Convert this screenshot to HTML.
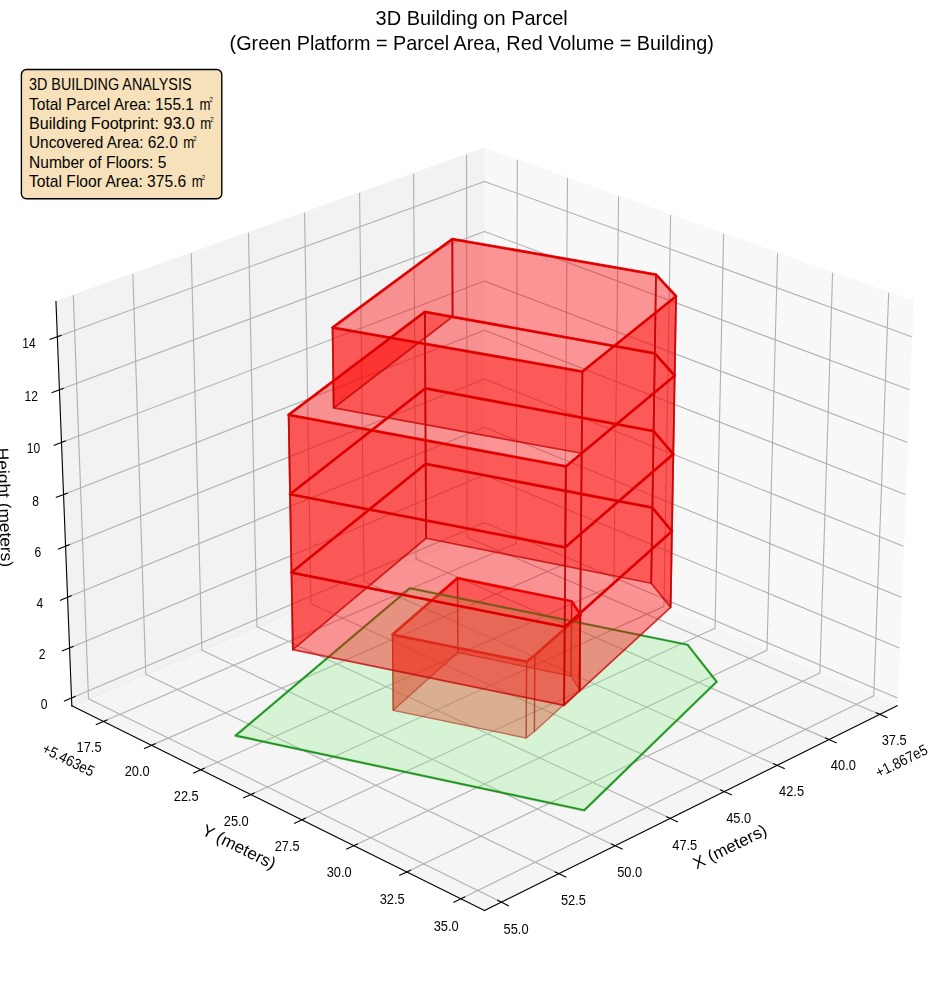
<!DOCTYPE html>
<html><head><meta charset="utf-8"><title>3D Building on Parcel</title>
<style>html,body{margin:0;padding:0;background:#fff}body{width:944px;height:992px;position:relative;overflow:hidden;font-family:"Liberation Sans",sans-serif}</style></head>
<body>
<svg width="944" height="992" viewBox="0 0 944 992" style="position:absolute;left:0;top:0;display:block">
<rect width="944" height="992" fill="#fff"/>
<path d="M484.49 529.79L897.14 705.85L913.01 301.55L484.49 148.37" fill="#f2f2f2" stroke="#f2f2f2" stroke-width="1.39" opacity=".5"/>
<path d="M484.49 529.79L71.83 705.85L55.96 301.55L484.49 148.37" fill="#e6e6e6" stroke="#e6e6e6" stroke-width="1.39" opacity=".5"/>
<path d="M484.49 529.79L71.83 705.85L484.49 910.42L897.14 705.85" fill="#ececec" stroke="#ececec" stroke-width="1.39" opacity=".5"/>
<g fill="none" stroke="#b0b0b0" stroke-width="1.11" stroke-linejoin="round">
<path d="M879.90 714.40L467.15 537.19L466.53 154.79"/>
<path d="M829.03 739.62L416.05 558.99L413.58 173.71"/>
<path d="M777.14 765.34L364.00 581.19L359.61 193.01"/>
<path d="M724.20 791.59L310.98 603.82L304.58 212.68"/>
<path d="M670.17 818.37L256.94 626.87L248.47 232.73"/>
<path d="M615.03 845.71L201.87 650.37L191.25 253.19"/>
<path d="M558.73 873.62L145.73 674.32L132.87 274.05"/>
<path d="M501.24 902.12L88.49 698.75L73.31 295.35"/>
<path d="M517.33 160.11L516.19 543.31L103.37 721.49"/>
<path d="M567.49 178.04L564.59 563.97L151.57 745.38"/>
<path d="M618.58 196.30L613.85 584.98L200.69 769.73"/>
<path d="M670.60 214.90L663.98 606.37L250.75 794.55"/>
<path d="M723.60 233.84L715.01 628.15L301.78 819.85"/>
<path d="M777.58 253.14L766.97 650.31L353.81 845.64"/>
<path d="M832.60 272.80L819.87 672.89L406.86 871.94"/>
<path d="M888.66 292.84L873.75 695.87L460.97 898.76"/>
<path d="M71.52 698.06L484.49 522.42L897.45 698.06"/>
<path d="M69.56 647.91L484.49 475.00L899.42 647.91"/>
<path d="M67.57 597.29L484.49 427.17L901.40 597.29"/>
<path d="M65.56 546.17L484.49 378.90L903.41 546.17"/>
<path d="M63.54 494.56L484.49 330.21L905.44 494.56"/>
<path d="M61.49 442.45L484.49 281.07L907.48 442.45"/>
<path d="M59.43 389.84L484.49 231.49L909.55 389.84"/>
<path d="M57.34 336.70L484.49 181.45L911.63 336.70"/>
</g>
<g fill="none" stroke="#000" stroke-width="1.11" stroke-linecap="square">
<path d="M897.14 705.85L484.49 910.42"/>
<path d="M876.35 712.88L887.00 717.46"/>
<path d="M825.48 738.07L836.15 742.73"/>
<path d="M773.58 763.76L784.27 768.52"/>
<path d="M720.64 789.97L731.33 794.83"/>
<path d="M666.61 816.72L677.31 821.68"/>
<path d="M611.46 844.02L622.17 849.08"/>
<path d="M555.16 871.90L565.87 877.06"/>
<path d="M497.67 900.36L508.38 905.64"/>
<path d="M71.83 705.85L484.49 910.42"/>
<path d="M106.92 719.96L96.26 724.56"/>
<path d="M155.13 743.82L144.45 748.51"/>
<path d="M204.25 768.14L193.57 772.92"/>
<path d="M254.31 792.93L243.62 797.80"/>
<path d="M305.35 818.20L294.65 823.16"/>
<path d="M357.37 843.95L346.67 849.02"/>
<path d="M410.43 870.22L399.72 875.38"/>
<path d="M464.54 897.01L453.82 902.27"/>
<path d="M71.83 705.85L55.96 301.55"/>
<path d="M75.07 696.55L64.41 701.09"/>
<path d="M73.12 646.43L62.41 650.89"/>
<path d="M71.15 595.82L60.38 600.22"/>
<path d="M69.17 544.73L58.34 549.06"/>
<path d="M67.16 493.15L56.28 497.40"/>
<path d="M65.13 441.07L54.19 445.24"/>
<path d="M63.09 388.47L52.09 392.57"/>
<path d="M61.02 335.36L49.97 339.38"/>
</g>
<g fill="#f00" fill-opacity=".4" stroke="none">
<polygon points="393.14,710.29 457.73,652.47 457.54,578.13 392.48,634.61"/>
<polygon points="457.73,652.47 571.04,676.16 571.66,601.26 457.54,578.13"/>
<polygon points="571.04,676.16 579.86,690.08 580.54,614.87 571.66,601.26"/>
<polygon points="579.86,690.08 534.41,731.50 534.77,655.33 580.54,614.87"/>
<polygon points="534.41,731.50 526.25,738.03 526.55,661.71 534.77,655.33"/>
<polygon points="526.25,738.03 393.14,710.29 392.48,634.61 526.55,661.71"/>
</g>
<g fill="none" stroke="rgb(195,0,0)" stroke-opacity=".75" stroke-width="1.30" stroke-linejoin="round">
<polygon points="393.14,710.29 457.73,652.47 457.54,578.13 392.48,634.61"/>
<polygon points="457.73,652.47 571.04,676.16 571.66,601.26 457.54,578.13"/>
<polygon points="571.04,676.16 579.86,690.08 580.54,614.87 571.66,601.26"/>
<polygon points="579.86,690.08 534.41,731.50 534.77,655.33 580.54,614.87"/>
<polygon points="534.41,731.50 526.25,738.03 526.55,661.71 534.77,655.33"/>
<polygon points="526.25,738.03 393.14,710.29 392.48,634.61 526.55,661.71"/>
</g>
<g fill="none" stroke="rgb(245,0,0)" stroke-opacity=".9" stroke-width="2.78" stroke-linejoin="round">
<polygon points="392.48,634.61 457.54,578.13 571.66,601.26 580.54,614.87 534.77,655.33 526.55,661.71"/>
</g>
<g fill="none" stroke="rgb(139,0,0)" stroke-opacity=".3" stroke-width="1.39" stroke-linejoin="round">
<polygon points="392.48,634.61 457.54,578.13 571.66,601.26 580.54,614.87 534.77,655.33 526.55,661.71"/>
</g>
<polygon points="235.58,735.62 409.89,588.21 687.59,644.76 716.65,681.76 584.19,810.29" fill="rgb(144,238,144)" fill-opacity=".3" stroke="rgb(0,128,0)" stroke-opacity=".3" stroke-width="2.78" stroke-linejoin="round"/>
<polygon points="235.58,735.62 409.89,588.21 687.59,644.76 716.65,681.76 584.19,810.29" fill="none" stroke="rgb(28,148,28)" stroke-width="1.7" stroke-linejoin="round"/>
<g fill="#f00" fill-opacity=".4" stroke="none">
<polygon points="292.85,649.67 426.09,538.26 425.68,463.85 291.46,572.53"/>
<polygon points="426.09,538.26 651.21,583.25 652.39,507.73 425.68,463.85"/>
<polygon points="651.21,583.25 670.64,607.42 671.97,531.30 652.39,507.73"/>
<polygon points="670.64,607.42 579.53,691.20 580.23,613.06 671.97,531.30"/>
<polygon points="579.53,691.20 564.10,705.46 564.70,626.98 580.23,613.06"/>
<polygon points="564.10,705.46 292.85,649.67 291.46,572.53 564.70,626.98"/>
<polygon points="291.46,572.53 425.68,463.85 425.27,388.39 290.04,494.25"/>
<polygon points="425.68,463.85 652.39,507.73 653.59,431.12 425.27,388.39"/>
<polygon points="652.39,507.73 671.97,531.30 673.33,454.09 653.59,431.12"/>
<polygon points="671.97,531.30 580.23,613.06 580.95,533.75 673.33,454.09"/>
<polygon points="580.23,613.06 564.70,626.98 565.30,547.32 580.95,533.75"/>
<polygon points="564.70,626.98 291.46,572.53 290.04,494.25 565.30,547.32"/>
<polygon points="290.04,494.25 425.27,388.39 424.85,311.86 288.60,414.81"/>
<polygon points="425.27,388.39 653.59,431.12 654.81,353.41 424.85,311.86"/>
<polygon points="653.59,431.12 673.33,454.09 674.70,375.74 654.81,353.41"/>
<polygon points="673.33,454.09 580.95,533.75 581.68,453.25 674.70,375.74"/>
<polygon points="580.95,533.75 565.30,547.32 565.91,466.45 581.68,453.25"/>
<polygon points="565.30,547.32 290.04,494.25 288.60,414.81 565.91,466.45"/>
<polygon points="333.68,407.94 452.56,316.81 452.33,239.05 332.55,327.51"/>
<polygon points="452.56,316.81 654.81,353.41 656.04,274.57 452.33,239.05"/>
<polygon points="654.81,353.41 674.70,375.74 676.10,296.25 656.04,274.57"/>
<polygon points="674.70,375.74 581.68,453.25 582.42,371.52 676.10,296.25"/>
<polygon points="581.68,453.25 333.68,407.94 332.55,327.51 582.42,371.52"/>
</g>
<g fill="none" stroke="rgb(195,0,0)" stroke-opacity=".75" stroke-width="1.75" stroke-linejoin="round">
<polygon points="292.85,649.67 426.09,538.26 425.68,463.85 291.46,572.53"/>
<polygon points="426.09,538.26 651.21,583.25 652.39,507.73 425.68,463.85"/>
<polygon points="651.21,583.25 670.64,607.42 671.97,531.30 652.39,507.73"/>
<polygon points="670.64,607.42 579.53,691.20 580.23,613.06 671.97,531.30"/>
<polygon points="579.53,691.20 564.10,705.46 564.70,626.98 580.23,613.06"/>
<polygon points="564.10,705.46 292.85,649.67 291.46,572.53 564.70,626.98"/>
<polygon points="291.46,572.53 425.68,463.85 425.27,388.39 290.04,494.25"/>
<polygon points="425.68,463.85 652.39,507.73 653.59,431.12 425.27,388.39"/>
<polygon points="652.39,507.73 671.97,531.30 673.33,454.09 653.59,431.12"/>
<polygon points="671.97,531.30 580.23,613.06 580.95,533.75 673.33,454.09"/>
<polygon points="580.23,613.06 564.70,626.98 565.30,547.32 580.95,533.75"/>
<polygon points="564.70,626.98 291.46,572.53 290.04,494.25 565.30,547.32"/>
<polygon points="290.04,494.25 425.27,388.39 424.85,311.86 288.60,414.81"/>
<polygon points="425.27,388.39 653.59,431.12 654.81,353.41 424.85,311.86"/>
<polygon points="653.59,431.12 673.33,454.09 674.70,375.74 654.81,353.41"/>
<polygon points="673.33,454.09 580.95,533.75 581.68,453.25 674.70,375.74"/>
<polygon points="580.95,533.75 565.30,547.32 565.91,466.45 581.68,453.25"/>
<polygon points="565.30,547.32 290.04,494.25 288.60,414.81 565.91,466.45"/>
<polygon points="333.68,407.94 452.56,316.81 452.33,239.05 332.55,327.51"/>
<polygon points="452.56,316.81 654.81,353.41 656.04,274.57 452.33,239.05"/>
<polygon points="654.81,353.41 674.70,375.74 676.10,296.25 656.04,274.57"/>
<polygon points="674.70,375.74 581.68,453.25 582.42,371.52 676.10,296.25"/>
<polygon points="581.68,453.25 333.68,407.94 332.55,327.51 582.42,371.52"/>
</g>
<g fill="none" stroke="rgb(245,0,0)" stroke-opacity=".9" stroke-width="2.78" stroke-linejoin="round">
<polygon points="291.46,572.53 425.68,463.85 652.39,507.73 671.97,531.30 580.23,613.06 564.70,626.98"/>
<polygon points="290.04,494.25 425.27,388.39 653.59,431.12 673.33,454.09 580.95,533.75 565.30,547.32"/>
<polygon points="288.60,414.81 424.85,311.86 654.81,353.41 674.70,375.74 581.68,453.25 565.91,466.45"/>
<polygon points="332.55,327.51 452.33,239.05 656.04,274.57 676.10,296.25 582.42,371.52"/>
</g>
<g fill="none" stroke="rgb(139,0,0)" stroke-opacity=".3" stroke-width="1.39" stroke-linejoin="round">
<polygon points="291.46,572.53 425.68,463.85 652.39,507.73 671.97,531.30 580.23,613.06 564.70,626.98"/>
<polygon points="290.04,494.25 425.27,388.39 653.59,431.12 673.33,454.09 580.95,533.75 565.30,547.32"/>
<polygon points="288.60,414.81 424.85,311.86 654.81,353.41 674.70,375.74 581.68,453.25 565.91,466.45"/>
<polygon points="332.55,327.51 452.33,239.05 656.04,274.57 676.10,296.25 582.42,371.52"/>
</g>
<g font-family="Liberation Sans, sans-serif" fill="#000" opacity=".99">
<text x="894.15" y="744.67" font-size="15.20" text-anchor="middle" textLength="25.0" lengthAdjust="spacingAndGlyphs">37.5</text>
<text x="843.36" y="770.11" font-size="15.20" text-anchor="middle" textLength="25.0" lengthAdjust="spacingAndGlyphs">40.0</text>
<text x="791.55" y="796.06" font-size="15.20" text-anchor="middle" textLength="25.0" lengthAdjust="spacingAndGlyphs">42.5</text>
<text x="738.69" y="822.54" font-size="15.20" text-anchor="middle" textLength="25.0" lengthAdjust="spacingAndGlyphs">45.0</text>
<text x="684.74" y="849.57" font-size="15.20" text-anchor="middle" textLength="25.0" lengthAdjust="spacingAndGlyphs">47.5</text>
<text x="629.67" y="877.15" font-size="15.20" text-anchor="middle" textLength="25.0" lengthAdjust="spacingAndGlyphs">50.0</text>
<text x="573.45" y="905.31" font-size="15.20" text-anchor="middle" textLength="25.0" lengthAdjust="spacingAndGlyphs">52.5</text>
<text x="516.04" y="934.07" font-size="15.20" text-anchor="middle" textLength="25.0" lengthAdjust="spacingAndGlyphs">55.0</text>
<text x="732.38" y="851.79" font-size="16.67" text-anchor="middle" textLength="80.0" lengthAdjust="spacingAndGlyphs" transform="rotate(-26.37 732.38 851.79)">X (meters)</text>
<text x="89.09" y="751.82" font-size="15.20" text-anchor="middle" textLength="25.0" lengthAdjust="spacingAndGlyphs">17.5</text>
<text x="137.22" y="775.93" font-size="15.20" text-anchor="middle" textLength="25.0" lengthAdjust="spacingAndGlyphs">20.0</text>
<text x="186.27" y="800.50" font-size="15.20" text-anchor="middle" textLength="25.0" lengthAdjust="spacingAndGlyphs">22.5</text>
<text x="236.26" y="825.53" font-size="15.20" text-anchor="middle" textLength="25.0" lengthAdjust="spacingAndGlyphs">25.0</text>
<text x="287.21" y="851.06" font-size="15.20" text-anchor="middle" textLength="25.0" lengthAdjust="spacingAndGlyphs">27.5</text>
<text x="339.16" y="877.08" font-size="15.20" text-anchor="middle" textLength="25.0" lengthAdjust="spacingAndGlyphs">30.0</text>
<text x="392.14" y="903.62" font-size="15.20" text-anchor="middle" textLength="25.0" lengthAdjust="spacingAndGlyphs">32.5</text>
<text x="446.18" y="930.68" font-size="15.20" text-anchor="middle" textLength="25.0" lengthAdjust="spacingAndGlyphs">35.0</text>
<text x="236.59" y="851.79" font-size="16.67" text-anchor="middle" textLength="80.0" lengthAdjust="spacingAndGlyphs" transform="rotate(26.37 236.59 851.79)">Y (meters)</text>
<text x="44.11" y="709.03" font-size="15.20" text-anchor="middle" textLength="6.7" lengthAdjust="spacingAndGlyphs">0</text>
<text x="42.01" y="658.88" font-size="15.20" text-anchor="middle" textLength="6.7" lengthAdjust="spacingAndGlyphs">2</text>
<text x="39.89" y="608.25" font-size="15.20" text-anchor="middle" textLength="6.7" lengthAdjust="spacingAndGlyphs">4</text>
<text x="37.75" y="557.14" font-size="15.20" text-anchor="middle" textLength="6.7" lengthAdjust="spacingAndGlyphs">6</text>
<text x="35.59" y="505.53" font-size="15.20" text-anchor="middle" textLength="6.7" lengthAdjust="spacingAndGlyphs">8</text>
<text x="33.41" y="453.42" font-size="15.20" text-anchor="middle" textLength="13.4" lengthAdjust="spacingAndGlyphs">10</text>
<text x="31.21" y="400.80" font-size="15.20" text-anchor="middle" textLength="13.4" lengthAdjust="spacingAndGlyphs">12</text>
<text x="28.99" y="347.66" font-size="15.20" text-anchor="middle" textLength="13.4" lengthAdjust="spacingAndGlyphs">14</text>
<text x="-0.93" y="507.68" font-size="16.67" text-anchor="middle" textLength="119.3" lengthAdjust="spacingAndGlyphs" transform="rotate(87.75 -0.93 507.68)">Height (meters)</text>
<text x="903.80" y="765.60" font-size="15.20" text-anchor="middle" textLength="56.0" lengthAdjust="spacingAndGlyphs" transform="rotate(-26.37 903.80 765.60)">+1.867e5</text>
<text x="66.00" y="764.40" font-size="15.20" text-anchor="middle" textLength="56.0" lengthAdjust="spacingAndGlyphs" transform="rotate(26.37 66.00 764.40)">+5.463e5</text>
<text x="471.70" y="25.30" font-size="19.44" text-anchor="middle" textLength="192.2" lengthAdjust="spacingAndGlyphs">3D Building on Parcel</text>
<text x="471.70" y="49.60" font-size="19.44" text-anchor="middle" textLength="484.2" lengthAdjust="spacingAndGlyphs">(Green Platform = Parcel Area, Red Volume = Building)</text>
</g>
<rect x="21.4" y="69.5" width="200.4" height="129.2" rx="5" ry="5" fill="rgb(245,222,179)" fill-opacity=".9" stroke="#000" stroke-width="1.39"/>
<g font-family="Liberation Sans, sans-serif" fill="#000" font-size="15.9" opacity=".99">
<text x="29" y="89.7" textLength="162.5" lengthAdjust="spacingAndGlyphs">3D BUILDING ANALYSIS</text>
<text x="29" y="109.5" textLength="165.0" lengthAdjust="spacingAndGlyphs">Total Parcel Area: 155.1</text>
<text transform="translate(199.5 109.5) scale(.76 1)" font-size="17.3">m</text>
<text transform="translate(209.5 102.4) scale(.8 1)" font-size="7.6">2</text>
<text x="29" y="128.7" textLength="165.8" lengthAdjust="spacingAndGlyphs">Building Footprint: 93.0</text>
<text transform="translate(200.3 128.7) scale(.76 1)" font-size="17.3">m</text>
<text transform="translate(210.3 121.6) scale(.8 1)" font-size="7.6">2</text>
<text x="29" y="148.2" textLength="148.7" lengthAdjust="spacingAndGlyphs">Uncovered Area: 62.0</text>
<text transform="translate(183.2 148.2) scale(.76 1)" font-size="17.3">m</text>
<text transform="translate(193.2 141.1) scale(.8 1)" font-size="7.6">2</text>
<text x="29" y="167.9" textLength="137.4" lengthAdjust="spacingAndGlyphs">Number of Floors: 5</text>
<text x="29" y="187.4" textLength="157.2" lengthAdjust="spacingAndGlyphs">Total Floor Area: 375.6</text>
<text transform="translate(191.7 187.4) scale(.76 1)" font-size="17.3">m</text>
<text transform="translate(201.7 180.3) scale(.8 1)" font-size="7.6">2</text>
</g>
</svg>
</body></html>
